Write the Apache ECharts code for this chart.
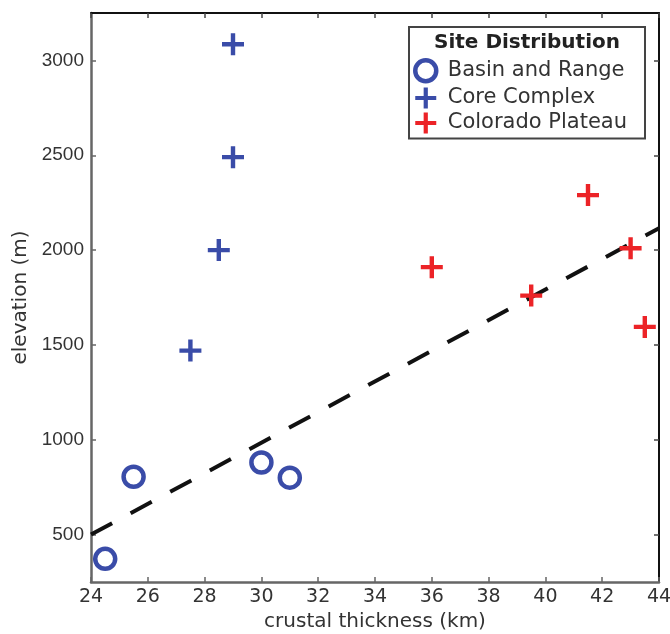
<!DOCTYPE html>
<html>
<head>
<meta charset="utf-8">
<script src="https://cdn.jsdelivr.net/npm/echarts@6/dist/echarts.min.js"></script>
<style>
  html, body { margin: 0; padding: 0; background: #ffffff; }
  #chart { width: 670px; height: 634px; }
</style>
</head>
<body>
<div id="chart"></div>
<script>
// ---- data ----
const seriesNames = ['Basin and Range', 'Core Complex', 'Colorado Plateau'];
const basinRange = [[24.5, 372], [25.5, 805], [30.0, 880], [31.0, 800]];
const coreComplex = [[27.5, 1470], [28.5, 2000], [29.0, 2490], [29.0, 3085]];
const coloradoPlateau = [[36.0, 1910], [39.5, 1760], [41.5, 2290], [43.0, 2010], [43.5, 1595]];
const fitLine = [[24, 500], [44, 2115]];
const xTickValues = [24, 26, 28, 30, 32, 34, 36, 38, 40, 42, 44];
const yTickValues = [500, 1000, 1500, 2000, 2500, 3000];
const xRange = [24, 44];
const yRange = [250, 3250];
const legendTitle = 'Site Distribution';
const xTitle = 'crustal thickness (km)';
const yTitle = 'elevation (m)';

// ---- styling ----
const BLUE = '#3a4ca8';
const RED = '#ec2327';
const PLUS = 'path://M4,0H6V4H10V6H6V10H4V6H0V4H4Z';
const FONT = 'DejaVu Sans';

const chart = echarts.init(document.getElementById('chart'), null, { renderer: 'canvas' });

chart.setOption({
  animation: false,
  backgroundColor: '#ffffff',
  grid: {
    left: 91, right: 11, top: 13, bottom: 52,
    outerBoundsMode: 'none', containLabel: false
  },
  xAxis: [{
    type: 'value',
    min: xRange[0], max: xRange[1], interval: 2,
    position: 'bottom',
    name: xTitle,
    nameLocation: 'middle',
    nameGap: 26,
    nameTextStyle: { fontFamily: FONT, fontSize: 20, color: '#333' },
    axisLine: { show: true, onZero: false, lineStyle: { color: '#666', width: 2.5 } },
    axisTick: { show: true, inside: true, length: 5, customValues: xTickValues, lineStyle: { color: '#666', width: 1.5 } },
    axisLabel: { customValues: xTickValues, formatter: v => String(v), fontFamily: FONT, fontSize: 19, color: '#333', margin: 6 },
    splitLine: { show: false }
  }, {
    type: 'value', min: xRange[0], max: xRange[1], interval: 2, position: 'top',
    axisLine: { show: true, onZero: false, lineStyle: { color: '#111', width: 2 } },
    axisLabel: { show: false },
    splitLine: { show: false },
    axisTick: { show: true, inside: true, length: 5, customValues: xTickValues, lineStyle: { color: '#444', width: 1.5 } }
  }],
  yAxis: [{
    type: 'value',
    min: yRange[0], max: yRange[1],
    position: 'left',
    name: yTitle,
    nameLocation: 'middle',
    nameGap: 59,
    nameTextStyle: { fontFamily: FONT, fontSize: 20, color: '#333' },
    axisLine: { show: true, onZero: false, lineStyle: { color: '#666', width: 2.5 } },
    axisTick: { show: true, inside: true, length: 5, customValues: yTickValues, lineStyle: { color: '#666', width: 1.5 } },
    axisLabel: { customValues: yTickValues, formatter: v => String(v), fontFamily: 'Liberation Sans', fontSize: 19, color: '#333', margin: 7 },
    splitLine: { show: false }
  }, {
    type: 'value', min: yRange[0], max: yRange[1], position: 'right',
    axisLine: { show: true, onZero: false, lineStyle: { color: '#111', width: 2 } },
    axisLabel: { show: false },
    splitLine: { show: false },
    axisTick: { show: true, inside: true, length: 5, customValues: yTickValues, lineStyle: { color: '#444', width: 1.5 } }
  }],
  legend: {
    orient: 'vertical',
    left: 409, top: 27,
    padding: [31, 18, 5, 4],
    itemGap: 4,
    itemWidth: 22,
    itemHeight: 21,
    borderColor: '#444',
    borderWidth: 2,
    backgroundColor: '#ffffff',
    textStyle: { fontFamily: FONT, fontSize: 21, color: '#333', padding: [0, 0, 0, 6] },
    data: [
      { name: seriesNames[0], itemStyle: { color: 'rgba(255,255,255,0)', borderColor: BLUE, borderWidth: 4.5 } },
      { name: seriesNames[1] },
      { name: seriesNames[2] }
    ]
  },
  graphic: [{
    type: 'text',
    x: 527, y: 43,
    z: 100,
    style: {
      text: legendTitle,
      fontFamily: FONT, fontWeight: 'bold', fontSize: 20,
      fill: '#222',
      textAlign: 'center', textVerticalAlign: 'middle'
    }
  }],
  series: [{
    name: 'fit',
    type: 'line',
    data: fitLine,
    symbol: 'none',
    silent: true,
    lineStyle: { color: '#111', width: 4, type: [24, 21], cap: 'butt' },
    z: 1
  }, {
    name: seriesNames[0],
    type: 'scatter',
    data: basinRange,
    symbol: 'circle',
    symbolSize: 20,
    itemStyle: { color: 'rgba(255,255,255,0)', borderColor: BLUE, borderWidth: 4.5, opacity: 1 },
    z: 3
  }, {
    name: seriesNames[1],
    type: 'scatter',
    data: coreComplex,
    symbol: PLUS,
    symbolSize: 22,
    itemStyle: { color: BLUE, opacity: 1 },
    z: 3
  }, {
    name: seriesNames[2],
    type: 'scatter',
    data: coloradoPlateau,
    symbol: PLUS,
    symbolSize: 22,
    itemStyle: { color: RED, opacity: 1 },
    z: 3
  }]
});
</script>
</body>
</html>
